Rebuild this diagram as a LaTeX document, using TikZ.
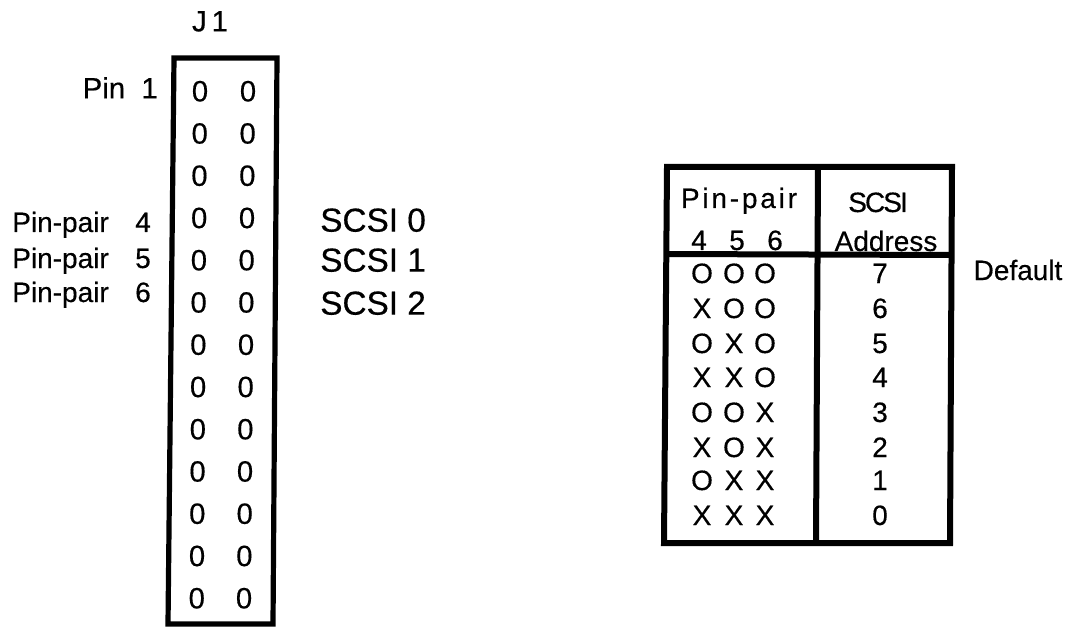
\documentclass[tikz,border=0pt]{standalone}
\usepackage{fontspec}
\setmainfont[FakeBold=0.4]{Liberation Sans}
\newfontfamily\widefont[FakeBold=0.4,LetterSpace=10]{Liberation Sans}
\newfontfamily\tightfont[FakeBold=0.4,LetterSpace=-7]{Liberation Sans}
\tikzset{
  heavy/.style={line width=3.9pt, line join=miter},
  biglab/.style={inner sep=0pt, font=\fontsize{22}{24}\selectfont, text height=15.5pt, text depth=0pt},
  scsilab/.style={inner sep=0pt, font=\fontsize{25}{27}\selectfont, text height=17.5pt, text depth=0pt},
  smalllab/.style={inner sep=0pt, font=\fontsize{21}{23}\selectfont, text height=15pt, text depth=0pt},
  tablab/.style={inner sep=0pt, font=\fontsize{21}{23}\selectfont, text height=15pt, text depth=0pt}
}
\begin{document}
\begin{tikzpicture}[x=0.75pt, y=-0.75pt]
        \useasboundingbox (0,0) rectangle (1070,627);
        % connector
        \node [biglab] (jone) at (210,21) {J\,1};
        \draw [heavy] (174,58)-- (277,58)-- (273,624)-- (168,624)-- cycle;
        \foreach \r in {0,...,12} {
            \node [biglab] (pinl\r) at ({200-0.27*\r},{91+42.25*\r}) {0};
            \node [biglab] (pinr\r) at ({248-0.33*\r},{91+42.25*\r}) {0};
        }
        \node [biglab, anchor=east] (pinone) at (158,88) {Pin\ \ 1};
        \foreach \r/\n/\s/\y/\z in {0/4/0/222/220, 1/5/1/258/260, 2/6/2/292/303} {
            \node [smalllab, anchor=west] (pp\r) at (12,\y) {Pin-pair};
            \node [smalllab] (ppn\r) at (143,\y) {\n};
            \node [scsilab, anchor=west] (scsi\r) at (320,\z) {SCSI \s};
        }
        % table
        \draw [heavy, line width=4.5pt] (667,167)-- (952,167)-- (950,543)-- (664,543)-- cycle;
        \draw [heavy, line width=4.5pt] (818,167)-- (816,543);
        \draw [heavy, line width=4.5pt] (666,254)-- (951,255);
        \node [tablab] (pinhead) at (739,198) {\widefont Pin-pair};
        \node [tablab] (num4) at (699,240) {4};
        \node [tablab] (num5) at (737,240) {5};
        \node [tablab] (num6) at (775,240) {6};
        \node [tablab] (scsihead) at (878,202) {\tightfont SCSI};
        \node [tablab] (addrhead) at (886,241) {Address};
        \node [tablab] (default) at (1018,270) {Default};
        \foreach \r/\a/\b/\c/\v/\y in {0/O/O/O/7/273, 1/X/O/O/6/308, 2/O/X/O/5/343, 3/X/X/O/4/377,
                4/O/O/X/3/412, 5/X/O/X/2/447, 6/O/X/X/1/480, 7/X/X/X/0/515} {
            \node [tablab] (ca\r) at (702,\y) {\a};
            \node [tablab] (cb\r) at (734,\y) {\b};
            \node [tablab] (cc\r) at (765,\y) {\c};
            \node [tablab] (addr\r) at (880,\y) {\v};
        }
\end{tikzpicture}
\end{document}
